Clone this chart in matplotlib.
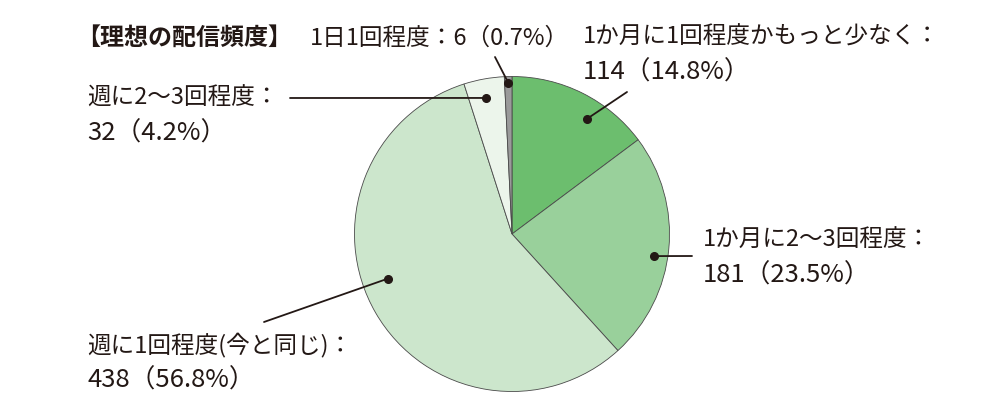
import numpy as np
import matplotlib
matplotlib.use("Agg")
import matplotlib.pyplot as plt

plt.rcParams['font.family'] = ['Noto Sans CJK JP', 'DejaVu Sans']

# ---- data ----
categories = ["1か月に1回程度かもっと少なく", "1か月に2〜3回程度", "週に1回程度(今と同じ)",
              "週に2〜3回程度", "1日1回程度"]
counts = [114, 181, 438, 32, 6]
percents = [14.8, 23.5, 56.8, 4.2, 0.7]
title = "【理想の配信頻度】"

# ---- style / layout ----
colors = ["#6cbe6e", "#99d09b", "#cce6cc", "#ecf5eb", "#9a9a9a"]
ink = "#231815"
W, H = 1000, 420
cx, cy, R = 512, 234, 157.5
label_layout = [
    dict(x=583, y=37, two=True),
    dict(x=703, y=240, two=True),
    dict(x=87, y=345, two=True),
    dict(x=87, y=98, two=True),
    dict(x=310, y=38, two=False),
]
leader_end = [(627, 92), (692, 256), (264, 322), (290, 98), (495, 57)]
anchor = [(0.38, 0.87), (0.46, 0.91), (0.45, 0.84), (0.55, 0.88), (0.5, 0.96)]

fig = plt.figure(figsize=(W / 100, H / 100), dpi=100)
ax = fig.add_axes([(cx - R) / W, (H - cy - R) / H, 2 * R / W, 2 * R / H])
wedges, _ = ax.pie(counts, colors=colors, startangle=90, counterclock=False,
                   radius=1, wedgeprops=dict(edgecolor="#4a4a4a", linewidth=0.6))
for w in wedges:
    w.set_clip_on(False)
ax.set_xlim(-1, 1)
ax.set_ylim(-1, 1)
ax.axis("off")

def px2fig(x, y):
    return x / W, 1 - y / H

fs = 17
fs_num = 18.5
gap = 36
for i, (cat, n, p) in enumerate(zip(categories, counts, percents)):
    lay = label_layout[i]
    if lay["two"]:
        fig.text(*px2fig(lay["x"], lay["y"]), f"{cat}：", fontsize=fs, color=ink,
                 ha="left", va="center")
        fig.text(*px2fig(lay["x"], lay["y"] + gap), f"{n}（{p}%）", fontsize=fs_num, color=ink,
                 ha="left", va="center")
    else:
        fig.text(*px2fig(lay["x"], lay["y"]), f"{cat}：{n}（{p}%）", fontsize=fs, color=ink,
                 ha="left", va="center")
    w = wedges[i]
    f, rf = anchor[i]
    ang = np.deg2rad(w.theta1 + f * (w.theta2 - w.theta1))
    ax_x, ax_y = rf * np.cos(ang), rf * np.sin(ang)
    ex, ey = px2fig(*leader_end[i])
    ax.annotate("", xy=(ax_x, ax_y), xycoords="data", xytext=(ex, ey),
                textcoords="figure fraction",
                arrowprops=dict(arrowstyle="-", color=ink, lw=1.3, shrinkA=0, shrinkB=0),
                annotation_clip=False)
    ax.plot([ax_x], [ax_y], "o", color=ink, markersize=5.5, clip_on=False, zorder=5)

fig.text(*px2fig(76, 38), title, fontsize=17.3, fontweight="bold", color=ink,
         ha="left", va="center")

fig.savefig("out.png", dpi=100, facecolor="white")
